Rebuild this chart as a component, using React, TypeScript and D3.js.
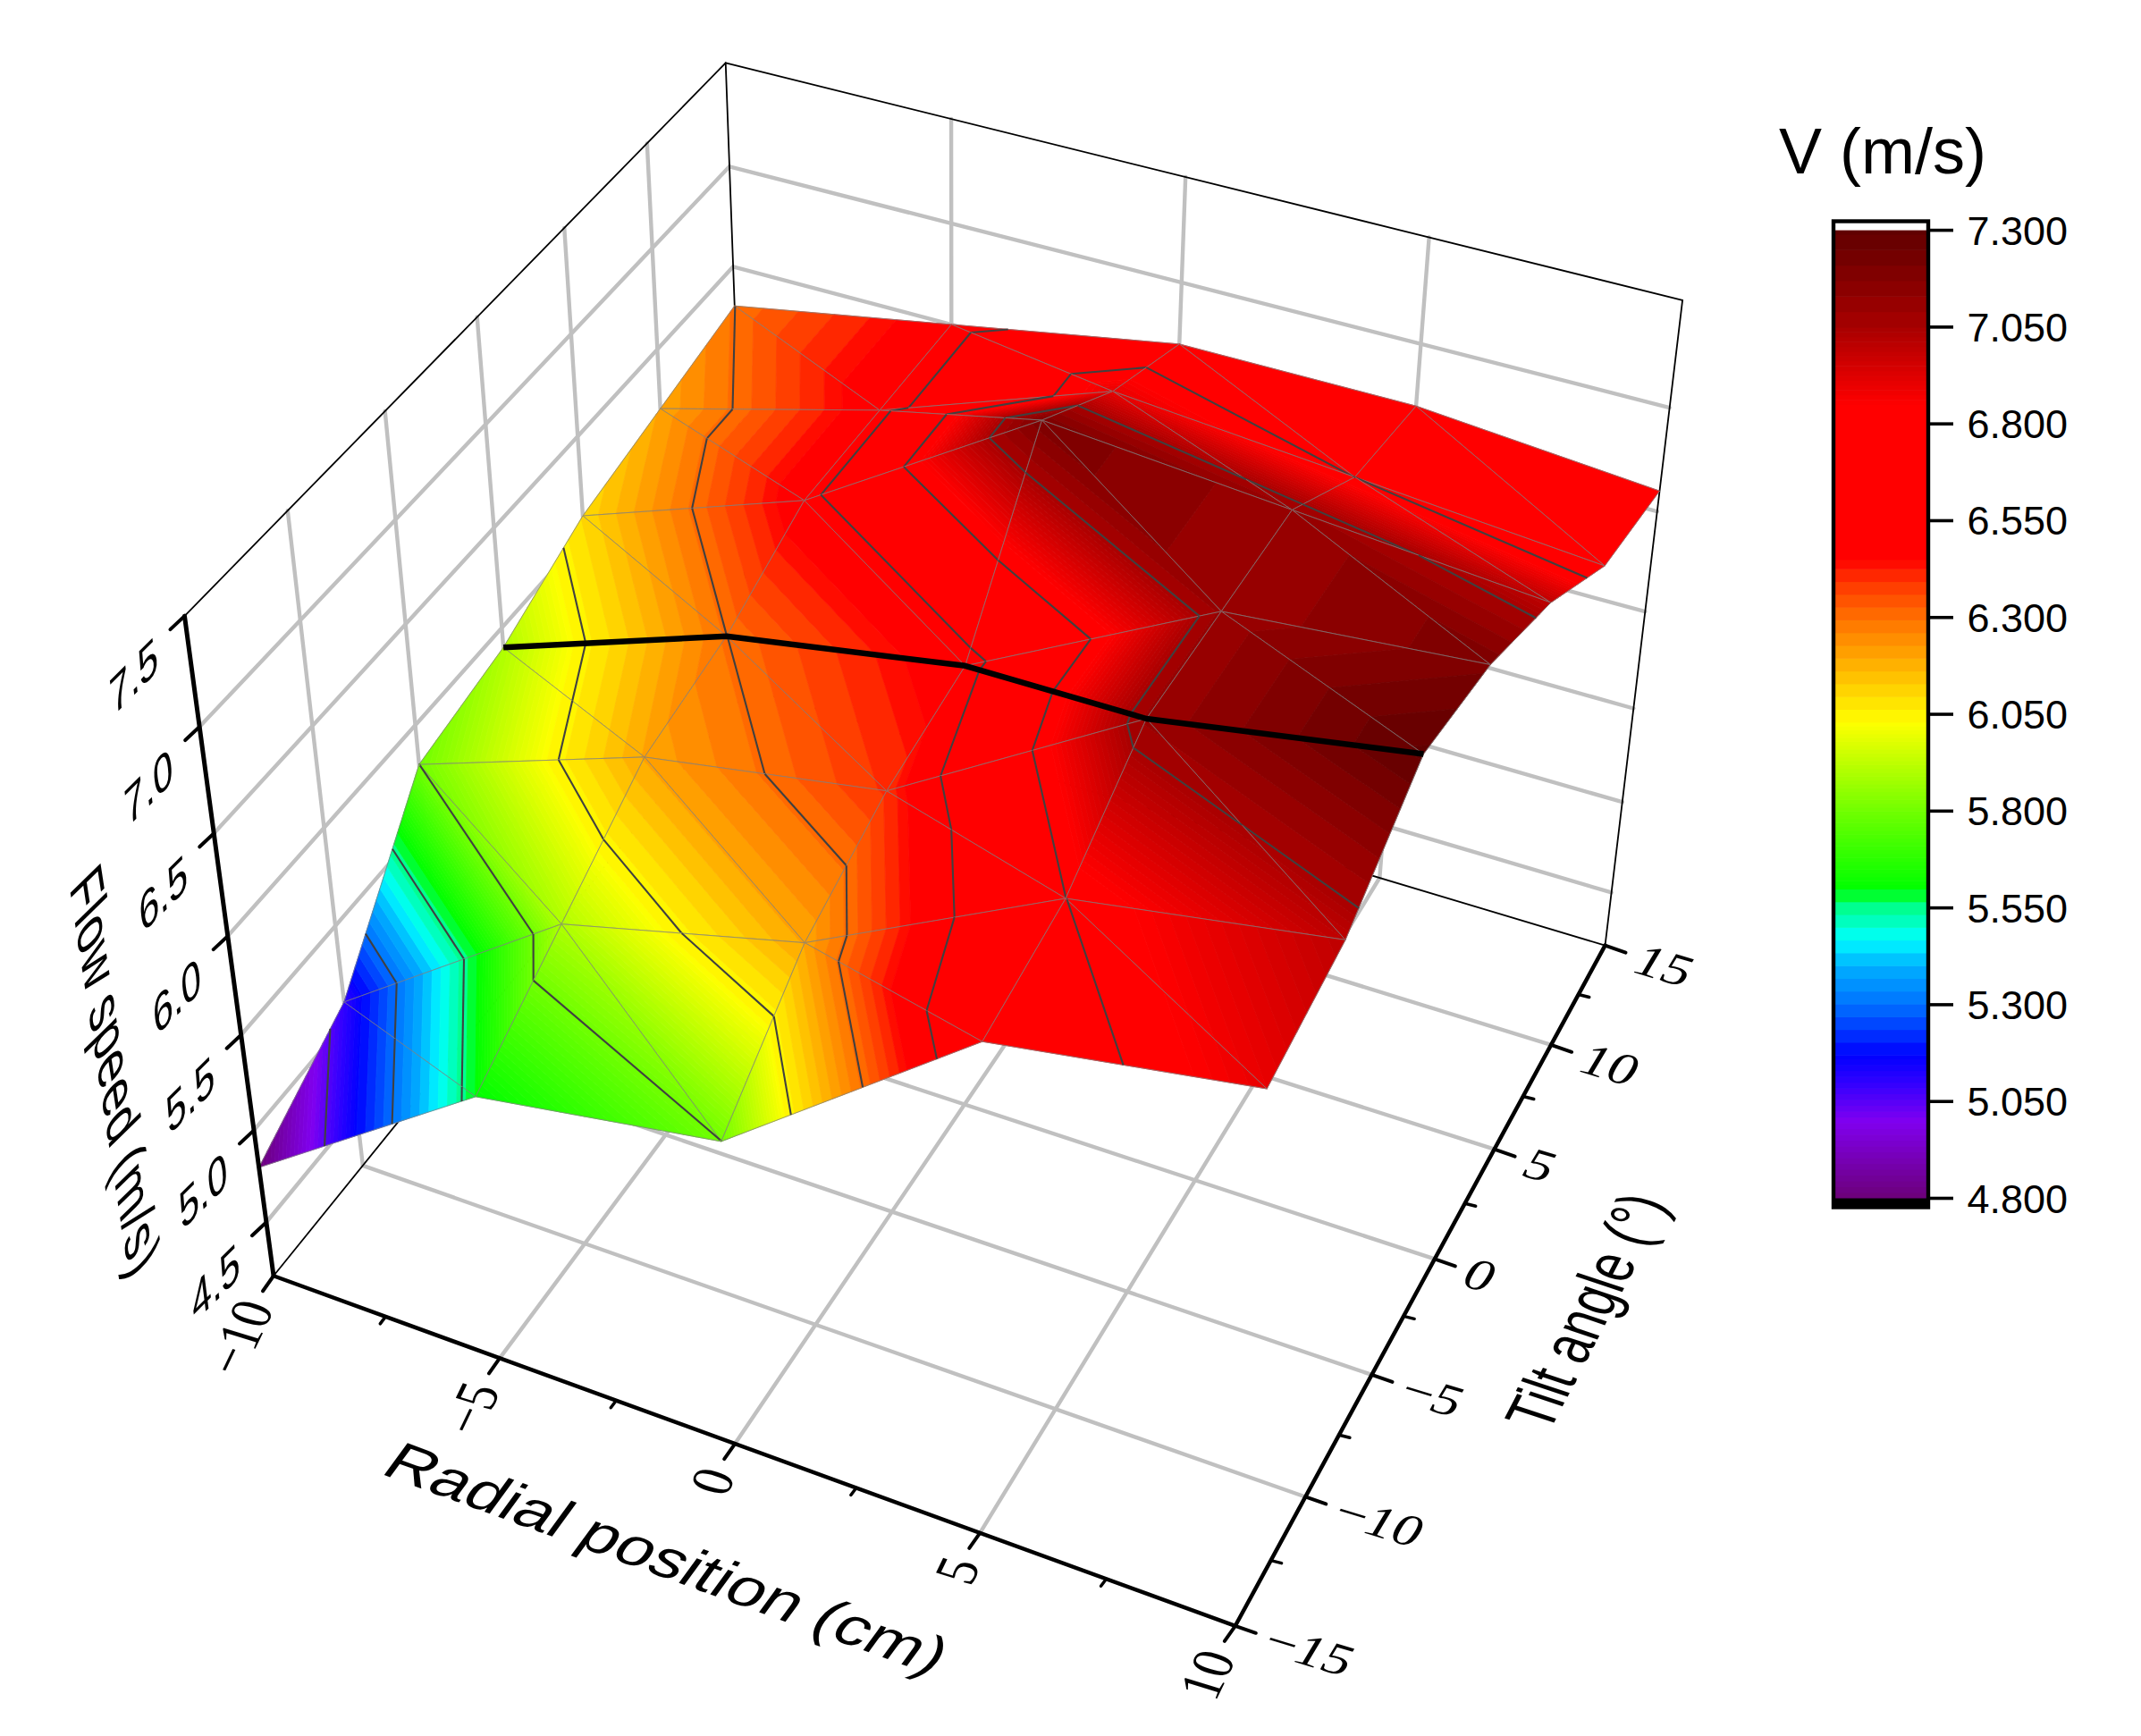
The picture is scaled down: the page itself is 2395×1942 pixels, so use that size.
import React, { useMemo } from "react";
import * as d3 from "d3";

// ---- data ----
const radial = [-10, -5, 0, 5, 10];
const tilt = [-15, -10, -5, 0, 5, 10, 15];
const speedTiltM15 = [4.8, 5.6, 5.8, 6.7, 6.9];
const speedTiltM10 = [5.1, 5.9, 6.2, 6.8, 7.0];
const speedTiltM5 = [5.8, 6.2, 6.4, 7.1, 7.3];
const speedTilt0 = [5.9, 6.3, 6.5, 7.1, 7.2];
const speedTilt5 = [6.1, 6.5, 7.2, 7.1, 7.0];
const speedTilt10 = [6.2, 6.5, 6.9, 6.8, 6.7];
const speedTilt15 = [6.3, 6.5, 6.7, 6.7, 6.6];
const speed = [speedTiltM15, speedTiltM10, speedTiltM5, speedTilt0, speedTilt5, speedTilt10, speedTilt15];
const blackPath = [[3, 0], [3, 1], [3, 2], [2, 3], [2, 4]]; // [tilt index, radial index]
const zTicks = [4.5, 5, 5.5, 6, 6.5, 7, 7.5];
const xMaj = [-10, -5, 0, 5, 10], xMin = [-7.5, -2.5, 2.5, 7.5];
const yMaj = [-15, -10, -5, 0, 5, 10, 15], yMin = [-12.5, -7.5, -2.5, 2.5, 7.5, 12.5];
const cbTicks = [7.3, 7.05, 6.8, 6.55, 6.3, 6.05, 5.8, 5.55, 5.3, 5.05, 4.8];
const stops = [4.8, 5.0, 5.1, 5.17, 5.3, 5.4, 5.47, 5.55, 5.6, 5.8, 6.03, 6.15, 6.3, 6.4, 6.45, 6.85, 7.05, 7.3];
const cols = ["#6c0078", "#8000f0", "#3000ff", "#0000ff", "#0070ff", "#00b0ff", "#00ffff", "#00ff90", "#00ff00", "#70ff00", "#ffff00", "#ffc000", "#ff7000", "#ff3000", "#ff0000", "#ff0000", "#a80000", "#600000"];
const bandSegments = [[4.8, 5.17, 0.015], [5.17, 5.6, 0.033], [5.6, 6.03, 0.01], [6.03, 6.45, 0.033], [6.45, 6.85, 0.4], [6.85, 7.05, 0.0125], [7.05, 7.3, 0.04]];

// ---- camera: projective map of the unit cube ----
const ZMIN = 4.2, ZMAX = 7.5;
const U = d3.scaleLinear().domain([-10, 10]).range([0, 1]);
const V = d3.scaleLinear().domain([-15, 15]).range([0, 1]);
const W = d3.scaleLinear().domain([ZMIN, ZMAX]).range([0, 1]);
const CAM = [306.02, 968.43, 662.65, -123.33, 1427.25, 250.2, -536.38, -817.47, -0.07771, 0.15656, -0.11515];
const proj = (x: number, y: number, z: number) => {
  const u = U(x), v = V(y), w = W(z), T = CAM;
  const d = 1 + T[8] * u + T[9] * v + T[10] * w;
  return [(T[0] + T[1] * u + T[2] * v + T[3] * w) / d, (T[4] + T[5] * u + T[6] * v + T[7] * w) / d];
};

const ramp = d3.scaleLinear<string>().domain(stops).range(cols).clamp(true);
const breaks: number[] = [];
bandSegments.forEach(([a, b, s]) => { for (let v = a; v < b - 1e-6; v += s) breaks.push(v); });
breaks.push(7.3);
const P = (r: number, c: number) => [radial[c], tilt[r], speed[r][c]];
type Pt = number[];
const clip = (poly: Pt[], L: number, keepAbove: boolean) => {
  const out: Pt[] = [];
  for (let i = 0; i < poly.length; i++) {
    const a = poly[i], b = poly[(i + 1) % poly.length];
    const ia = keepAbove ? a[2] >= L : a[2] <= L, ib = keepAbove ? b[2] >= L : b[2] <= L;
    if (ia) out.push(a);
    if (ia !== ib) { const t = (L - a[2]) / (b[2] - a[2]); out.push([a[0] + t * (b[0] - a[0]), a[1] + t * (b[1] - a[1]), L]); }
  }
  return out;
};
const path = (pts: Pt[]) => pts.map(p => proj(p[0], p[1], p[2]).map(v => v.toFixed(1)).join(",")).join(" ");
const majors = cbTicks.map(v => v + 0.0007);

function Tri({ tri }: { tri: Pt[] }) {
  const zs = tri.map(p => p[2]);
  const lo = Math.min(...zs), hi = Math.max(...zs);
  const bands: any[] = [];
  for (let k = 0; k < breaks.length - 1; k++) {
    const a = breaks[k], b = breaks[k + 1];
    if (b < lo || a > hi) continue;
    const pg = clip(clip(tri, a, true), b, false);
    if (pg.length < 3) continue;
    const c = ramp((a + b) / 2);
    bands.push(<polygon key={k} points={path(pg)} fill={c} stroke={c} strokeWidth={0.8} />);
  }
  const cts: any[] = [];
  for (const L of majors) {
    const seg: Pt[] = [];
    for (let i = 0; i < 3; i++) {
      const a = tri[i], b = tri[(i + 1) % 3];
      if ((a[2] - L) * (b[2] - L) < 0) { const t = (L - a[2]) / (b[2] - a[2]); seg.push([a[0] + t * (b[0] - a[0]), a[1] + t * (b[1] - a[1]), L]); }
    }
    if (seg.length === 2) cts.push(<polyline key={L} points={path(seg)} fill="none" stroke="#404040" strokeWidth={2.1} />);
  }
  return <g>{bands}<polygon points={path(tri)} fill="none" stroke="#808080" strokeWidth={0.8} />{cts}</g>;
}
const ln = (a: number[], b: number[], k: any, col: string, w: number) => <line key={k} x1={a[0]} y1={a[1]} x2={b[0]} y2={b[1]} stroke={col} strokeWidth={w} strokeLinecap="round" />;
function L3({ t, p, d, u, anchor, fam }: { t: string, p: number[], d: number[], u: number[], anchor?: string, fam: string }) {
  return <text transform={`matrix(${d[0] / 100} ${d[1] / 100} ${-u[0] / 100} ${-u[1] / 100} ${p[0]} ${p[1]})`} fontSize={100} fontFamily={fam} textAnchor={anchor || "start"} fill="#000">{t}</text>;
}
const SANS = "'Liberation Sans',Arial,sans-serif", SERIF = "'Liberation Serif',serif";
const cbY = d3.scaleLinear().domain([4.8, 7.3]).range([1340.5, 257.6]);
const minus = (v: number) => v < 0 ? "\u2212" + Math.abs(v) : String(v);

export default function App() {
  const G = "#c0c0c0", GW = 4.4;
  const tris = useMemo(() => {
    const out: Pt[][] = [];
    for (let r = tilt.length - 2; r >= 0; r--) for (let c = 0; c < radial.length - 1; c++) {
      out.push([P(r + 1, c), P(r + 1, c + 1), P(r, c + 1)]);
      out.push([P(r, c), P(r + 1, c), P(r, c + 1)]);
    }
    return out;
  }, []);
  return <svg width={2395} height={1942} style={{ position: "absolute", left: 0, top: 0, background: "#fff" }}>
    <g>
      {zTicks.filter(z => z < 7.5).map(z => ln(proj(-10, -15, z), proj(-10, 15, z), "lw" + z, G, GW))}
      {zTicks.filter(z => z < 7.5).map(z => ln(proj(-10, 15, z), proj(10, 15, z), "bw" + z, G, GW))}
      {yMaj.slice(1, -1).map(y => ln(proj(-10, y, ZMIN), proj(-10, y, ZMAX), "lv" + y, G, GW))}
      {xMaj.slice(1, -1).map(x => ln(proj(x, 15, ZMIN), proj(x, 15, ZMAX), "bv" + x, G, GW))}
      {xMaj.slice(1, -1).map(x => ln(proj(x, -15, ZMIN), proj(x, 15, ZMIN), "fx" + x, G, GW))}
      {yMaj.slice(1, -1).map(y => ln(proj(-10, y, ZMIN), proj(10, y, ZMIN), "fy" + y, G, GW))}
      {ln(proj(-10, -15, ZMAX), proj(-10, 15, ZMAX), "e1", "#000", 1.8)}
      {ln(proj(-10, 15, ZMAX), proj(10, 15, ZMAX), "e2", "#000", 1.8)}
      {ln(proj(10, 15, ZMAX), proj(10, 15, ZMIN), "e3", "#000", 1.8)}
      {ln(proj(-10, 15, ZMAX), proj(-10, 15, ZMIN), "e4", "#000", 1.8)}
      {ln(proj(-10, 15, ZMIN), proj(10, 15, ZMIN), "e5", "#000", 1.8)}
      {ln(proj(-10, 15, ZMIN), proj(-10, -15, ZMIN), "e6", "#000", 1.8)}
    </g>
    <g>{tris.map((t, i) => <Tri key={i} tri={t} />)}</g>
    <polyline points={path(blackPath.map(([r, c]) => P(r, c)))} fill="none" stroke="#000" strokeWidth={6.5} strokeLinejoin="round" />
    <g>
      {ln(proj(-10, -15, ZMIN), proj(-10, -15, ZMAX), "a1", "#000", 5)}
      {ln(proj(-10, -15, ZMIN), proj(10, -15, ZMIN), "a2", "#000", 4.5)}
      {ln(proj(10, -15, ZMIN), proj(10, 15, ZMIN), "a3", "#000", 4.5)}
      {zTicks.map(z => { const p = proj(-10, -15, z); return <g key={z}>{ln(p, [p[0] - 16, p[1] + 15], "t", "#000", 4)}
        <L3 t={z.toFixed(1)} p={[p[0] - 28, p[1] + 60]} d={[38, -38]} u={[-7, -56]} anchor="end" fam={SANS} /></g>; })}
      {xMaj.map(x => { const p = proj(x, -15, ZMIN); return <g key={x}>{ln(p, [p[0] - 12, p[1] + 17], "t", "#000", 4)}
        <L3 t={minus(x)} p={[p[0] + 1.5, p[1] + 36]} d={[24, -50]} u={[-62, -19]} anchor="end" fam={SERIF} /></g>; })}
      {xMin.map(x => { const p = proj(x, -15, ZMIN); return ln(p, [p[0] - 6, p[1] + 8], "xm" + x, "#000", 3.5); })}
      {yMaj.map(y => { const p = proj(10, y, ZMIN); return <g key={y}>{ln(p, [p[0] + 23, p[1] + 8], "t", "#000", 4)}
        <L3 t={minus(y)} p={[p[0] + 27, p[1] + 28.5]} d={[60, 18]} u={[27, -45]} fam={SERIF} /></g>; })}
      {yMin.map(y => { const p = proj(10, y, ZMIN); return ln(p, [p[0] + 12, p[1] + 3], "ym" + y, "#000", 3.5); })}
      <L3 t="Radial position (cm)" p={[424, 1648]} d={[70, 25.6]} u={[38, -52]} fam={SANS} />
      <L3 t="Flow speed (m/s)" p={[78, 994]} d={[8.8, 57.5]} u={[49, -48]} fam={SANS} />
      <L3 t="Tilt angle (°)" p={[1732, 1604]} d={[25, -48]} u={[-72, -24]} fam={SANS} />
    </g>
    <g>
      <text x={1990} y={194} fontSize={72} fontFamily={SANS} fill="#000">V (m/s)</text>
      {breaks.slice(0, -1).map((a, i) => { const b = breaks[i + 1]; return <rect key={i} x={2051} width={106} y={cbY(b)} height={cbY(a) - cbY(b) + 0.6} fill={ramp((a + b) / 2)} />; })}
      <rect x={2051} y={247.5} width={106} height={1103} fill="none" stroke="#000" strokeWidth={4.4} />
      <rect x={2049} y={1340.5} width={110} height={11.5} fill="#000" />
      {cbTicks.map(v => <g key={v}><line x1={2159} x2={2185} y1={cbY(v)} y2={cbY(v)} stroke="#000" strokeWidth={3.6} />
        <text x={2313} y={cbY(v) + 16} fontSize={45} fontFamily={SANS} textAnchor="end" fill="#000">{v.toFixed(3)}</text></g>)}
    </g>
  </svg>;
}
